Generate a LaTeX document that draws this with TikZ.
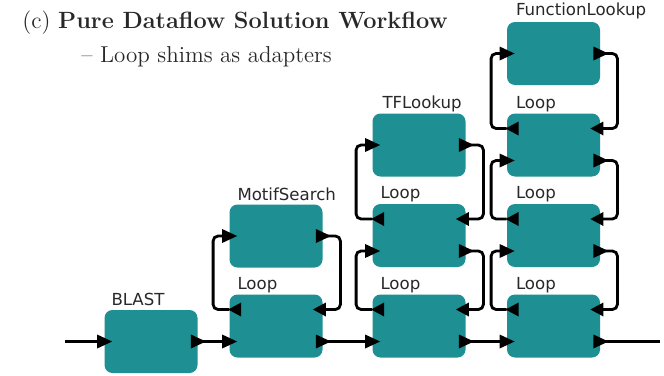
\documentclass[tikz,border=0pt]{standalone}
\usepackage{fontspec}
\newfontfamily\labelfont{DejaVu Sans}
\usetikzlibrary{calc}

\definecolor{boxteal}{RGB}{30,143,147}
\definecolor{inkgray}{RGB}{40,40,40}

% ports of a shim (loop) box: through in/out and feedback out/in
\newcommand\loopports[1]{%
  \coordinate (#1-in)  at ($(#1.west)+(0,15.5)$);
  \coordinate (#1-out) at ($(#1.east)+(0,15.5)$);
  \coordinate (#1-fo)  at ($(#1.west)+(0,-16.5)$);
  \coordinate (#1-fi)  at ($(#1.east)+(0,-16.5)$);}
% ports of an ordinary actor box
\newcommand\actorports[1]{%
  \coordinate (#1-in)  at (#1.west);
  \coordinate (#1-out) at (#1.east);}
% port triangles
\newcommand\rightport[1]{\fill[black] ($(#1)+(-7,-7)$) -- ($(#1)+(8,0)$) -- ($(#1)+(-7,7)$) -- cycle;}
\newcommand\westout[1]{\fill[black] ($(#1)+(12,-7)$) -- ($(#1)+(-1,0)$) -- ($(#1)+(12,7)$) -- cycle;}
\newcommand\eastin[1]{\fill[black] ($(#1)+(3,-7)$) -- ($(#1)+(-10,0)$) -- ($(#1)+(3,7)$) -- cycle;}

\begin{document}
\begin{tikzpicture}[x=0.5pt,y=-0.5pt,
  unit/.style={fill=boxteal, rounded corners=4pt, minimum width=46.5pt,
    minimum height=31.5pt, inner sep=0pt},
  lab/.style={anchor=base west, inner sep=0pt, text=inkgray,
    font=\labelfont\fontsize{8.3}{9}\selectfont},
  wire/.style={line width=1.4pt, rounded corners=2.5pt},
  ttl/.style={anchor=base west, inner sep=0pt, text=inkgray}]

\fill[white] (0,0) rectangle (664,375);
\useasboundingbox (0,0) rectangle (664,375);

% title
\node[ttl, font=\fontsize{11.75}{13}\selectfont] (title) at (22,28.5)
  {(c) \textbf{Pure Dataflow Solution Workflow}};
\node[ttl, font=\fontsize{11.5}{13}\selectfont] (subtitle) at (81,62)
  {– Loop shims as adapters};

% actor boxes
\node[unit] (blast)    at (151,341.5) {};
\node[unit] (loopA)    at (276,326) {};
\node[unit] (motif)    at (276,236) {};
\node[unit] (loopB1)   at (419,326) {};
\node[unit] (loopB2)   at (419,235.5) {};
\node[unit] (tflook)   at (419,145) {};
\node[unit] (loopC1)   at (553.5,326) {};
\node[unit] (loopC2)   at (553.5,235.5) {};
\node[unit] (loopC3)   at (553.5,145) {};
\node[unit] (funclook) at (553.5,53.5) {};

% box labels
\node[lab] (blastlab)  at ($(blast.north west)+(7,-4)$) {BLAST};
\node[lab] (loopAlab)  at ($(loopA.north west)+(8,-5)$) {Loop};
\node[lab] (motiflab)  at ($(motif.north west)+(8,-4)$) {MotifSearch};
\node[lab] (loopB1lab) at ($(loopB1.north west)+(8,-5)$) {Loop};
\node[lab] (loopB2lab) at ($(loopB2.north west)+(8,-5)$) {Loop};
\node[lab] (tflooklab) at ($(tflook.north west)+(10,-5)$) {TFLookup};
\node[lab] (loopC1lab) at ($(loopC1.north west)+(9,-5)$) {Loop};
\node[lab] (loopC2lab) at ($(loopC2.north west)+(9,-5)$) {Loop};
\node[lab] (loopC3lab) at ($(loopC3.north west)+(9,-5)$) {Loop};
\node[lab] (funclab)   at ($(funclook.north west)+(9,-6)$) {FunctionLookup};

% ports
\actorports{blast}
\actorports{motif}
\actorports{tflook}
\actorports{funclook}
\loopports{loopA}
\loopports{loopB1}
\loopports{loopB2}
\loopports{loopC1}
\loopports{loopC2}
\loopports{loopC3}
\coordinate (source) at (65,341.5);
\coordinate (sink)   at (660,341.5);

% main line
\draw[wire] (source) -- (blast-in);
\draw[wire] (blast-out) -- (loopA-in);
\draw[wire] (loopA-out) -- (loopB1-in);
\draw[wire] (loopB1-out) -- (loopC1-in);
\draw[wire] (loopC1-out) -- (sink);

% loop shim wiring, column 2
\draw[wire] (loopA-fo) -- ++(-16,0) |- (motif-in);
\draw[wire] (motif-out) -- ++(17.5,0) |- (loopA-fi);

% column 3
\draw[wire] (loopB1-fo) -- ++(-16,0) |- (loopB2-in);
\draw[wire] (loopB2-out) -- ++(17.5,0) |- (loopB1-fi);
\draw[wire] (loopB2-fo) -- ++(-16,0) |- (tflook-in);
\draw[wire] (tflook-out) -- ++(17.5,0) |- (loopB2-fi);

% column 4
\draw[wire] (loopC1-fo) -- ++(-15.5,0) |- (loopC2-in);
\draw[wire] (loopC2-out) -- ++(17,0) |- (loopC1-fi);
\draw[wire] (loopC2-fo) -- ++(-15.5,0) |- (loopC3-in);
\draw[wire] (loopC3-out) -- ++(17,0) |- (loopC2-fi);
\draw[wire] (loopC3-fo) -- ++(-15.5,0) |- (funclook-in);
\draw[wire] (funclook-out) -- ++(17,0) |- (loopC3-fi);

% port triangles
\foreach \p in {blast,motif,tflook,funclook,loopA,loopB1,loopB2,loopC1,loopC2,loopC3}{
  \rightport{\p-in}
  \rightport{\p-out}
}
\foreach \p in {loopA,loopB1,loopB2,loopC1,loopC2,loopC3}{
  \westout{\p-fo}
  \eastin{\p-fi}
}
\end{tikzpicture}
\end{document}
